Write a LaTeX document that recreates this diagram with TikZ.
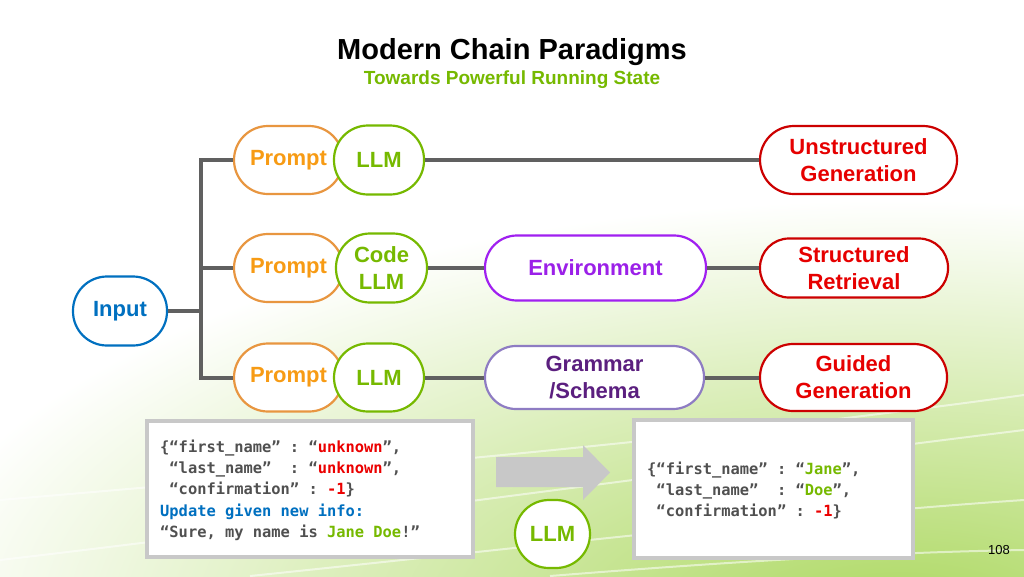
\documentclass[tikz,border=0pt]{standalone}
\usepackage{fontspec}
\setmainfont{Liberation Sans}
\setmonofont{DejaVu Sans Mono}
\usetikzlibrary{calc}

\definecolor{nvgreen}{RGB}{118,185,0}
\definecolor{inblue}{RGB}{0,112,192}
\definecolor{prborder}{RGB}{232,150,64}
\definecolor{prtext}{RGB}{247,155,20}
\definecolor{outborder}{RGB}{204,0,0}
\definecolor{outtext}{RGB}{230,0,0}
\definecolor{envborder}{RGB}{160,32,240}
\definecolor{envtext}{RGB}{155,32,232}
\definecolor{gsborder}{RGB}{142,124,195}
\definecolor{gstext}{RGB}{91,31,127}
\definecolor{wire}{RGB}{96,96,96}
\definecolor{boxgray}{RGB}{200,200,200}
\definecolor{codegray}{RGB}{80,80,80}
\definecolor{codered}{RGB}{235,0,0}
\definecolor{bggreen}{RGB}{172,216,96}

\tikzset{
  pill/.style={draw, line width=2.2pt, fill=white, inner sep=0pt, align=center,
    font=\bfseries\fontsize{22}{27}\selectfont},
  wireline/.style={draw=wire, line width=4pt},
  codebox/.style={draw=boxgray, line width=4pt, fill=white, inner sep=0pt},
  codeline/.style={anchor=base west, inner sep=0pt, text=codegray,
    font=\ttfamily\bfseries\fontsize{15.4}{21}\selectfont},
  swoosh/.style={draw=white, line width=2pt, opacity=0.55},
}

\begin{document}
\begin{tikzpicture}[x=1pt,y=-1pt]
\useasboundingbox (0,0) rectangle (1024,576);

% backdrop: white, glowing green towards the lower right
\fill[white] (0,0) rectangle (1024,576);
\begin{scope}
  \clip (0,0) rectangle (1024,576);
  \shade[inner color=bggreen, outer color=white] (900,620) ellipse (1000 and 420);
  \draw[swoosh] (0,560) .. controls (300,525) and (700,470) .. (1024,430);
  \draw[swoosh] (250,576) .. controls (550,545) and (800,515) .. (1024,500);
  \draw[swoosh] (0,500) .. controls (350,470) and (700,440) .. (1024,395);
  \draw[swoosh] (550,576) .. controls (750,560) and (900,552) .. (1024,550);
\end{scope}

% heading
\node[font=\bfseries\fontsize{29}{33}\selectfont] (title) at (512,52) {Modern Chain Paradigms};
\node[font=\bfseries\fontsize{19}{22}\selectfont, text=nvgreen] (subtitle) at (512,80) {Towards Powerful Running State};

% input
\node[pill, draw=inblue, text=inblue, minimum width=94pt, minimum height=69pt, rounded corners=34pt] (in) at (120,311) {Input};

% row 1
\node[pill, draw=prborder, text=prtext, minimum width=109pt, minimum height=68pt, rounded corners=34pt] (p1) at (288.5,160) {Prompt};
\node[pill, draw=nvgreen, text=nvgreen, minimum width=90pt, minimum height=69pt, rounded corners=34pt] (m1) at (379,160) {LLM};
\node[pill, draw=outborder, text=outtext, minimum width=197pt, minimum height=68pt, rounded corners=34pt] (o1) at (858.5,160) {Unstructured\\Generation};

% row 2
\node[pill, draw=prborder, text=prtext, minimum width=109pt, minimum height=68pt, rounded corners=34pt] (p2) at (288.5,268) {Prompt};
\node[pill, draw=nvgreen, text=nvgreen, minimum width=91pt, minimum height=69pt, rounded corners=34pt] (m2) at (381.5,268) {Code\\LLM};
\node[pill, draw=envborder, text=envtext, minimum width=221pt, minimum height=65pt, rounded corners=32pt] (env) at (595.5,268) {Environment};
\node[pill, draw=outborder, text=outtext, minimum width=188pt, minimum height=59pt, rounded corners=29pt] (o2) at (854,268) {Structured\\Retrieval};

% row 3
\node[pill, draw=prborder, text=prtext, minimum width=109pt, minimum height=68pt, rounded corners=34pt] (p3) at (288.5,377.5) {Prompt};
\node[pill, draw=nvgreen, text=nvgreen, minimum width=90pt, minimum height=68pt, rounded corners=34pt] (m3) at (379,377.5) {LLM};
\node[pill, draw=gsborder, text=gstext, minimum width=219pt, minimum height=63pt, rounded corners=31pt] (gs) at (594.5,377.5) {Grammar\\/Schema};
\node[pill, draw=outborder, text=outtext, minimum width=187pt, minimum height=67pt, rounded corners=33pt] (o3) at (853.5,377.5) {Guided\\Generation};

% fan-out from the input
\coordinate (j) at (201,311);
\draw[wireline] (in.east) -- (j);
\draw[wireline, line join=miter] (p1.west) -| (j) |- (p3.west);
\draw[wireline] (j |- p2.west) -- (p2.west);

% chains
\draw[wireline] (m1.east) -- (o1.west);
\draw[wireline] (m2.east) -- (env.west);
\draw[wireline] (env.east) -- (o2.west);
\draw[wireline] (m3.east) -- (gs.west);
\draw[wireline] (gs.east) -- (o3.west);

% state before the update
\node[codebox, minimum width=326pt, minimum height=136pt] (before) at (310,489) {};
\node[codeline] (b1) at (160,452) {\{“first\_name” : “\textcolor{codered}{unknown}”,};
\node[codeline] (b2) at (160,473) {~“last\_name”~~: “\textcolor{codered}{unknown}”,};
\node[codeline] (b3) at (160,494.5) {~“confirmation” : \textcolor{codered}{-1}\}};
\node[codeline, text=inblue] (b4) at (160,516) {Update given new info:};
\node[codeline] (b5) at (160,537.5) {“Sure, my name is \textcolor{nvgreen}{Jane Doe}!”};

% update arrow and model
\fill[boxgray] (496,457) -- (583,457) -- (583,445) -- (610,472.5) -- (583,500) -- (583,487) -- (496,487) -- cycle;
\node[pill, draw=nvgreen, text=nvgreen, minimum width=75pt, minimum height=68pt, rounded corners=34pt] (m4) at (552.5,534) {LLM};

% state after the update
\node[codebox, minimum width=279pt, minimum height=138pt] (after) at (773.5,489) {};
\node[codeline] (a1) at (647,474) {\{“first\_name” : “\textcolor{nvgreen}{Jane}”,};
\node[codeline] (a2) at (647,495) {~“last\_name”~~: “\textcolor{nvgreen}{Doe}”,};
\node[codeline] (a3) at (647,516) {~“confirmation” : \textcolor{codered}{-1}\}};

% page number
\node[anchor=base east, inner sep=0pt, font=\fontsize{13}{15}\selectfont] (page) at (1010,554) {108};
\end{tikzpicture}
\end{document}
